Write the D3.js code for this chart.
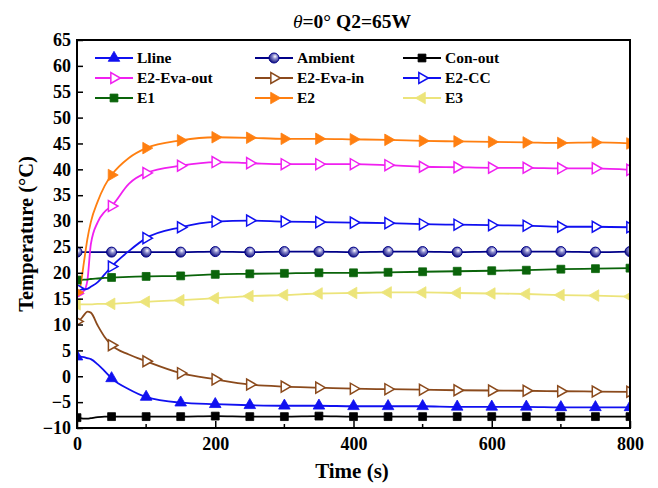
<!DOCTYPE html>
<html>
<head>
<meta charset="utf-8">
<script src="https://cdn.jsdelivr.net/npm/d3@7"></script>
<style>
  html, body { margin: 0; padding: 0; background: #fff; }
  svg { display: block; }
  text { font-family: "Liberation Serif", "Times New Roman", serif; font-weight: bold; }
</style>
</head>
<body>
<svg id="chart" width="658" height="488"></svg>
<script>
// Sample times (s); markers sit on every 50 s
const times = [0, 5, 10, 15, 20, 30, 40, 50, 75, 100, 150, 200, 250, 300, 350, 400, 450, 500, 550, 600, 650, 700, 750, 800];

const lline     = [3.8, 3.8, 3.7, 3.5, 3.3, 2.3, 1.0, -0.4, -2.5, -4.0, -5.1, -5.4, -5.6, -5.7, -5.7, -5.8, -5.8, -5.8, -5.9, -5.9, -5.9, -6.0, -6.0, -6.0];
const ambient   = [24.0, 24.0, 24.0, 24.0, 24.0, 24.0, 24.0, 24.0, 24.0, 24.0, 24.0, 24.1, 24.0, 24.1, 24.1, 24.0, 24.1, 24.1, 24.0, 24.1, 24.1, 24.1, 24.0, 24.1];
const conOut    = [-8.0, -8.1, -8.2, -8.2, -8.1, -7.9, -7.8, -7.8, -7.8, -7.8, -7.8, -7.7, -7.8, -7.8, -7.7, -7.8, -7.8, -7.8, -7.8, -7.8, -7.8, -7.8, -7.8, -7.8];
const e2EvaOut  = [16.0, 16.2, 16.5, 18.5, 25.5, 29.8, 31.8, 32.9, 37.2, 39.3, 40.7, 41.4, 41.2, 41.0, 41.0, 41.0, 40.8, 40.5, 40.4, 40.3, 40.3, 40.2, 40.2, 39.9];
const e2EvaIn   = [10.6, 11.0, 11.8, 12.5, 12.3, 9.8, 7.6, 6.0, 4.2, 2.9, 0.6, -0.6, -1.6, -2.0, -2.2, -2.4, -2.5, -2.6, -2.7, -2.75, -2.8, -2.9, -2.95, -3.0];
const e2CC      = [17.0, 16.8, 16.8, 16.9, 17.3, 18.2, 19.7, 21.2, 24.2, 26.7, 28.8, 29.9, 30.1, 29.9, 29.8, 29.7, 29.6, 29.4, 29.3, 29.2, 29.1, 28.9, 28.9, 28.8];
const e1        = [18.6, 18.6, 18.7, 18.7, 18.8, 18.9, 19.0, 19.1, 19.2, 19.3, 19.4, 19.7, 19.8, 19.9, 20.0, 20.0, 20.1, 20.2, 20.3, 20.4, 20.5, 20.7, 20.8, 20.9];
const e2        = [16.2, 17.5, 22.0, 26.5, 29.8, 33.8, 36.8, 38.9, 42.2, 44.1, 45.6, 46.2, 46.1, 45.9, 45.9, 45.8, 45.7, 45.5, 45.4, 45.3, 45.2, 45.1, 45.2, 45.0];
const e3        = [13.9, 13.9, 13.9, 13.9, 13.9, 14.0, 14.0, 14.0, 14.2, 14.4, 14.7, 15.1, 15.5, 15.7, 16.0, 16.1, 16.2, 16.2, 16.1, 16.0, 15.9, 15.7, 15.6, 15.4];

const seriesNames = ["Lline", "Ambient", "Con-out", "E2-Eva-out", "E2-Eva-in", "E2-CC", "E1", "E2", "E3"];
const seriesValues = [lline, ambient, conOut, e2EvaOut, e2EvaIn, e2CC, e1, e2, e3];

const xTicks = [0, 200, 400, 600, 800];
const xMinorTicks = [100, 300, 500, 700];
const yTicks = [-10, -5, 0, 5, 10, 15, 20, 25, 30, 35, 40, 45, 50, 55, 60, 65];

// Drawing styles per series: colour, marker shape, filled or hollow
const styles = {
  "Lline":      { color: "#1010f0", shape: "up",    filled: true },
  "Ambient":    { color: "#000088", shape: "ball",  filled: true },
  "Con-out":    { color: "#000000", shape: "square", filled: true },
  "E2-Eva-out": { color: "#f020f0", shape: "right", filled: false },
  "E2-Eva-in":  { color: "#8b4a1c", shape: "right", filled: false },
  "E2-CC":      { color: "#1010f0", shape: "right", filled: false },
  "E1":         { color: "#0a640a", shape: "square", filled: true },
  "E2":         { color: "#ff7f10", shape: "right", filled: true },
  "E3":         { color: "#ece47a", shape: "left",  filled: true }
};

const svg = d3.select("#chart");
const m = { left: 77, right: 630, top: 40, bottom: 428 };

const x = d3.scaleLinear().domain([0, 800]).range([m.left, m.right]);
const y = d3.scaleLinear().domain([-10, 65]).range([m.bottom, m.top]);

// Shaded ball marker for the Ambient series
const defs = svg.append("defs");
const grad = defs.append("radialGradient").attr("id", "ballGrad")
  .attr("cx", "0.6").attr("cy", "0.35").attr("r", "0.7");
grad.append("stop").attr("offset", "0").attr("stop-color", "#ffffff");
grad.append("stop").attr("offset", "0.35").attr("stop-color", "#8888cc");
grad.append("stop").attr("offset", "1").attr("stop-color", "#000070");

defs.append("clipPath").attr("id", "plotClip")
  .append("rect")
  .attr("x", m.left).attr("y", m.top)
  .attr("width", m.right - m.left).attr("height", m.bottom - m.top);

function drawMarker(g, name, cx, cy) {
  const s = styles[name];
  if (s.shape === "ball") {
    g.append("circle").attr("cx", cx).attr("cy", cy).attr("r", 5)
      .attr("fill", "url(#ballGrad)").attr("stroke", s.color).attr("stroke-width", 1);
    return;
  }
  let sym, rot = 0, size;
  if (s.shape === "square") { sym = d3.symbolSquare; size = 62; }
  else { sym = d3.symbolTriangle; size = s.filled ? 58 : 52; }
  if (s.shape === "right") rot = 90;
  if (s.shape === "left") rot = -90;
  g.append("path")
    .attr("d", d3.symbol().type(sym).size(size)())
    .attr("transform", `translate(${cx},${cy}) rotate(${rot})`)
    .attr("fill", s.filled ? s.color : "#ffffff")
    .attr("stroke", s.color)
    .attr("stroke-width", s.filled ? 0.8 : 1.5);
}

// Series lines and markers
const plot = svg.append("g").attr("clip-path", "url(#plotClip)");
const line = d3.line().x(d => x(d.t)).y(d => y(d.v)).curve(d3.curveMonotoneX);

seriesNames.forEach((name, i) => {
  const data = times.map((t, k) => ({ t: t, v: seriesValues[i][k] }));
  plot.append("path")
    .datum(data)
    .attr("d", line)
    .attr("fill", "none")
    .attr("stroke", styles[name].color)
    .attr("stroke-width", 1.8);
});
seriesNames.forEach((name, i) => {
  const g = plot.append("g");
  times.forEach((t, k) => {
    if (t % 50 === 0) drawMarker(g, name, x(t), y(seriesValues[i][k]));
  });
});

// Axes (ticks point inward)
const yAxis = d3.axisLeft(y).tickValues(yTicks).tickSizeInner(-6).tickSizeOuter(0).tickPadding(6);
const gy = svg.append("g").attr("transform", `translate(${m.left},0)`).call(yAxis);
gy.select(".domain").remove();
gy.selectAll("line").attr("stroke", "#000").attr("stroke-width", 1.5);
gy.selectAll("text").attr("font-size", 18).attr("fill", "#000");

const xAxis = d3.axisBottom(x).tickValues(xTicks).tickSizeInner(-7).tickSizeOuter(0).tickPadding(9);
const gx = svg.append("g").attr("transform", `translate(0,${m.bottom})`).call(xAxis);
gx.select(".domain").remove();
gx.selectAll("line").attr("stroke", "#000").attr("stroke-width", 1.5);
gx.selectAll("text").attr("font-size", 18).attr("fill", "#000");

svg.append("g").selectAll("line").data(xMinorTicks).join("line")
  .attr("x1", d => x(d)).attr("x2", d => x(d))
  .attr("y1", m.bottom).attr("y2", m.bottom - 4)
  .attr("stroke", "#000").attr("stroke-width", 1.5);

// Plot frame
svg.append("rect")
  .attr("x", m.left).attr("y", m.top)
  .attr("width", m.right - m.left).attr("height", m.bottom - m.top)
  .attr("fill", "none").attr("stroke", "#000").attr("stroke-width", 2);

// Legend: three columns, three rows
const legX = [95, 255, 403];
const legY = [58, 78, 98];
seriesNames.forEach((name, i) => {
  const cx = legX[i % 3], cy = legY[Math.floor(i / 3)];
  const g = svg.append("g");
  g.append("line").attr("x1", cx).attr("x2", cx + 38).attr("y1", cy).attr("y2", cy)
    .attr("stroke", styles[name].color).attr("stroke-width", 1.8);
  drawMarker(g, name, cx + 19, cy);
  g.append("text").attr("x", cx + 42).attr("y", cy).attr("dy", "0.35em")
    .attr("font-size", 15.5).attr("fill", "#000").text(name);
});

// Title
const title = svg.append("text").attr("x", 352).attr("y", 28)
  .attr("text-anchor", "middle").attr("font-size", 19.5).attr("fill", "#000");
title.append("tspan").attr("font-style", "italic").attr("font-weight", "normal").text("θ");
title.append("tspan").text("=0° Q2=65W");

// Axis titles
svg.append("text").attr("x", 352).attr("y", 478)
  .attr("text-anchor", "middle").attr("font-size", 21).attr("fill", "#000").text("Time (s)");
svg.append("text")
  .attr("transform", `translate(33,${(m.top + m.bottom) / 2}) rotate(-90)`)
  .attr("text-anchor", "middle").attr("font-size", 20.5).attr("fill", "#000").text("Temperature (°C)");
</script>
</body>
</html>
